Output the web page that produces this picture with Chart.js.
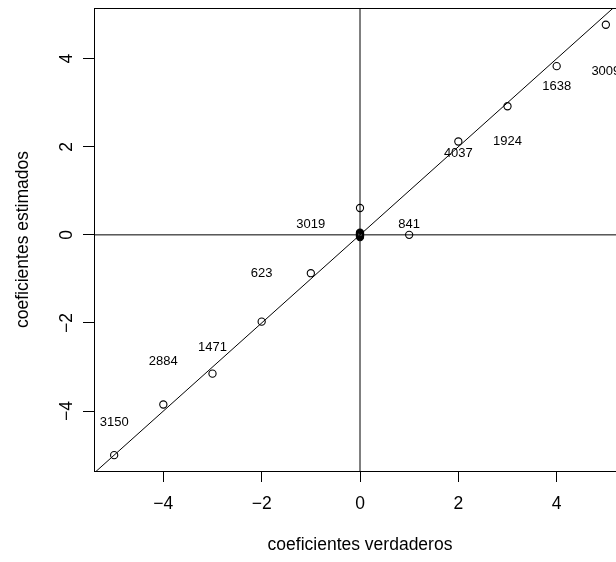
<!DOCTYPE html>
<html>
<head>
<meta charset="utf-8">
<script src="https://cdn.jsdelivr.net/npm/chart.js@4/dist/chart.umd.min.js"></script>
<style>
  html, body { margin: 0; padding: 0; background: #fff; overflow: hidden; }
  #wrap { width: 640px; height: 562px; }
</style>
</head>
<body>
<div id="wrap"><canvas id="coefChart" width="640" height="562"></canvas></div>
<script>
// coeficientes verdaderos vs estimados
const trueCoef = [5, 4, 3, 2, 1, 0, 0, 0, 0, 0, 0, 0, 0, 0, 0, 0, -1, -2, -3, -4, -5];
const estCoef = [4.77, 3.83, 2.92, 2.12, 0.0, 0.61, 0.0, 0.02, -0.02, 0.04, -0.03, 0.01, 0.05, -0.05, 0.03, -0.01, -0.87, -1.97, -3.15, -3.85, -5.0];

// etiquetas de texto (numero de observacion)
const labelText = ['3009', '1638', '1924', '4037', '841', '3019', '623', '1471', '2884', '3150'];
const labelX = [5.0, 4.0, 3.0, 2.0, 1.0, -1.0, -2.0, -3.0, -4.0, -5.0];
const labelY = [3.72, 3.37, 2.13, 1.86, 0.23, 0.23, -0.87, -2.56, -2.88, -4.25];

const xTicks = [-4, -2, 0, 2, 4];
const yTicks = [-4, -2, 0, 2, 4];
const xMin = -5.41, xMax = 5.41;
const yMin = -5.36, yMax = 5.15;

const FONT = "'Liberation Sans', Arial, Helvetica, sans-serif";

function fmt(v) {
    return v < 0 ? '\u2212' + Math.abs(v) : String(v);
}

const boxAndLabels = {
    id: 'boxAndLabels',
    afterDatasetsDraw(chart) {
        const { ctx, chartArea, scales } = chart;
        ctx.save();
        ctx.strokeStyle = '#000';
        ctx.lineWidth = 1;
        ctx.strokeRect(chartArea.left + 0.5, chartArea.top + 0.5,
            chartArea.right - chartArea.left, chartArea.bottom - chartArea.top);

        ctx.fillStyle = '#000';
        ctx.font = '13px ' + FONT;
        ctx.textAlign = 'center';
        ctx.textBaseline = 'middle';
        labelText.forEach((t, i) => {
            ctx.fillText(t, scales.x.getPixelForValue(labelX[i]), scales.y.getPixelForValue(labelY[i]));
        });
        ctx.restore();
    }
};

window.onload = () => {
    const ctx = document.getElementById('coefChart').getContext('2d');
    new Chart(ctx, {
        type: 'scatter',
        data: {
            datasets: [
                {
                    data: trueCoef.map((x, i) => ({ x, y: estCoef[i] })),
                    pointStyle: 'circle',
                    pointRadius: 3.6,
                    borderColor: '#000',
                    backgroundColor: 'rgba(0,0,0,0)',
                    borderWidth: 1.1
                },
                {
                    // abline(0, 1)
                    data: [{ x: xMin - 1, y: xMin - 1 }, { x: xMax + 1, y: xMax + 1 }],
                    showLine: true,
                    pointRadius: 0,
                    borderColor: '#000',
                    borderWidth: 1,
                    clip: 0
                },
                {
                    // abline(h = 0)
                    data: [{ x: xMin - 1, y: 0 }, { x: xMax + 1, y: 0 }],
                    showLine: true,
                    pointRadius: 0,
                    borderColor: '#000',
                    borderWidth: 1,
                    clip: 0
                },
                {
                    // abline(v = 0)
                    data: [{ x: 0, y: yMin - 1 }, { x: 0, y: yMax + 1 }],
                    showLine: true,
                    pointRadius: 0,
                    borderColor: '#000',
                    borderWidth: 1,
                    clip: 0
                }
            ]
        },
        options: {
            responsive: false,
            animation: false,
            layout: { padding: { top: 8, right: 14, left: 0, bottom: 0 } },
            plugins: {
                legend: { display: false },
                tooltip: { enabled: false }
            },
            scales: {
                x: {
                    type: 'linear',
                    min: xMin,
                    max: xMax,
                    afterBuildTicks: s => { s.ticks = xTicks.map(v => ({ value: v })); },
                    afterFit: s => { s.height = 91; s.paddingLeft = 0; s.paddingRight = 0; },
                    grid: { drawOnChartArea: false, tickLength: 11, color: '#000' },
                    border: { display: false },
                    ticks: {
                        color: '#000',
                        padding: 12,
                        font: { family: FONT, size: 17.5 },
                        maxRotation: 0,
                        callback: v => fmt(v)
                    },
                    title: {
                        display: true,
                        text: 'coeficientes verdaderos',
                        color: '#000',
                        font: { family: FONT, size: 17.5 },
                        padding: { top: 0, bottom: 6 }
                    }
                },
                y: {
                    type: 'linear',
                    min: yMin,
                    max: yMax,
                    afterBuildTicks: s => { s.ticks = yTicks.map(v => ({ value: v })); },
                    afterFit: s => { s.width = 94; s.paddingTop = 0; s.paddingBottom = 0; },
                    grid: { drawOnChartArea: false, tickLength: 11, color: '#000' },
                    border: { display: false },
                    ticks: {
                        color: '#000',
                        padding: 6,
                        crossAlign: 'center',
                        minRotation: 90,
                        maxRotation: 90,
                        font: { family: FONT, size: 17.5 },
                        callback: v => fmt(v)
                    },
                    title: {
                        display: true,
                        text: 'coeficientes estimados',
                        color: '#000',
                        font: { family: FONT, size: 17.5 },
                        padding: { top: 13, bottom: 0 }
                    }
                }
            }
        },
        plugins: [boxAndLabels]
    });
};
</script>
</body>
</html>
